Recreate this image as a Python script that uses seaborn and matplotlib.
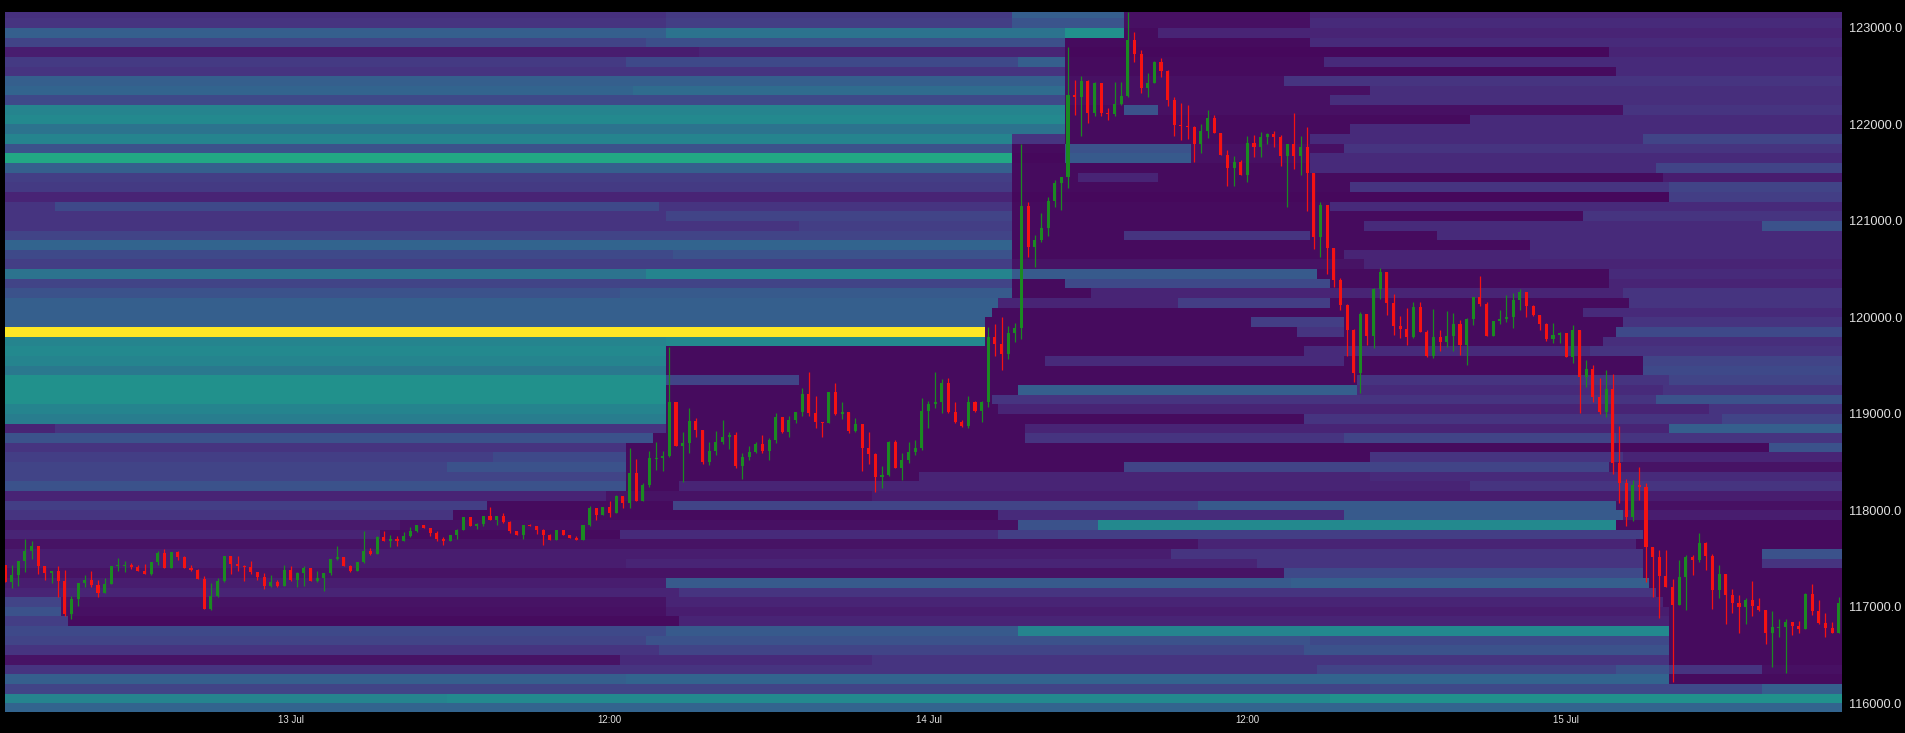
import numpy as np
import pandas as pd
import seaborn as sns
import matplotlib.pyplot as plt

sns.set_theme(style='dark')
plt.rcParams['font.family'] = ['Liberation Sans', 'DejaVu Sans']

# 15 min candles, 12 Jul 13:15 -> 15 Jul 10:15 (open of each bar = previous close)
start = '2025-07-12 13:15'
first_open = 117438
close = [117259, 117328, 117472, 117583, 117628, 117421, 117352, 117369, 117266, 116928,
         117076, 117248, 117273, 117231, 117145, 117238, 117421, 117431, 117438, 117410,
         117376, 117342, 117466, 117559, 117404, 117569, 117514, 117404, 117386, 117293,
         116973, 117111, 117266, 117524, 117445, 117421, 117410, 117362, 117307, 117214,
         117255, 117214, 117386, 117273, 117352, 117404, 117266, 117300, 117352, 117500,
         117514, 117421, 117369, 117466, 117576, 117548, 117721, 117686, 117707, 117679,
         117731, 117790, 117845, 117817, 117765, 117707, 117686, 117741, 117800, 117927,
         117834, 117859, 117938, 117903, 117938,
         117879, 117783, 117748, 117852, 117834, 117800, 117741, 117696, 117800, 117748,
         117714, 117696, 117852, 118024, 117948, 118031, 117972, 118145, 118076, 118386,
         118100, 118258, 118541, 118541, 118568, 119120, 118672, 118700, 118927, 118834,
         118506, 118617, 118713, 118755, 118782, 118455, 118558, 118603, 118686, 118617,
         118731, 118972, 118817, 118937, 119017, 119203, 119006, 118913, 118903, 119223,
         118996, 119024, 118824, 118893, 118644, 118582, 118341, 118369, 118713, 118444,
         118524, 118603, 118644, 119030, 119099, 119127, 119317, 119017, 118920, 118879,
         119127, 119030, 119127,
         119800, 119724, 119620, 119834, 119886, 121153, 120732, 120802, 120922, 121210,
         121388, 121457, 122304, 122280, 122452, 122114, 122425, 122121, 122107, 122210,
         122293, 122874, 122728, 122373, 122431, 122649, 122556, 122252, 121993, 121983,
         121976, 121796, 121934, 122062, 121913, 121682, 121544, 121613, 121475, 121803,
         121768, 121865, 121900, 121865, 121672, 121796, 121672, 121768, 121492, 120836,
         121164, 120715, 120387, 120128, 119869, 119420, 120035, 119807, 120290, 120473,
         120145, 119910, 119876, 119793, 120104, 119852, 119600, 119793, 119748, 119807,
         119931, 119714, 119979, 120207, 120138, 119807, 119966, 119979, 120007, 120180,
         120266, 120118, 120024, 119931, 119772, 119817, 119834, 119593, 119869, 119379,
         119462, 119178, 119023, 119254, 118487, 118280, 117934, 118263, 118245, 117623,
         117513, 117319, 117202, 117019, 117306, 117513, 117485, 117665, 117527, 117174,
         117340, 117123, 117036, 117002, 117071, 117009, 116967, 116732, 116788, 116795,
         116846, 116802, 116767, 117133, 116960, 116836, 116777, 116732, 117036]
high = [117438, 117438, 117472, 117707, 117679, 117628, 117421, 117369, 117421, 117386,
        117111, 117248, 117328, 117369, 117283, 117300, 117421, 117507, 117472, 117455,
        117431, 117445, 117466, 117583, 117603, 117569, 117583, 117524, 117438, 117397,
        117317, 117248, 117300, 117524, 117524, 117524, 117431, 117479, 117362, 117352,
        117328, 117273, 117431, 117421, 117362, 117421, 117404, 117369, 117352, 117500,
        117628, 117507, 117431, 117466, 117783, 117610, 117731, 117783, 117748, 117731,
        117776, 117824, 117845, 117845, 117817, 117783, 117721, 117741, 117810, 117927,
        117927, 117869, 117938, 118031, 117938,
        117972, 117893, 117790, 117852, 117858, 117834, 117810, 117755, 117800, 117800,
        117748, 117738, 117852, 118041, 118017, 118031, 118093, 118155, 118145, 118644,
        118534, 118282, 118617, 118713, 118610, 119690, 119127, 118817, 119065, 118955,
        118834, 118706, 118824, 118937, 118817, 118810, 118593, 118662, 118713, 118782,
        118748, 119006, 118972, 118982, 119024, 119272, 119437, 119189, 118920, 119223,
        119317, 119127, 119024, 118955, 118893, 118810, 118593, 118455, 118720, 118731,
        118593, 118713, 118731, 119161, 119134, 119437, 119361, 119368, 119120, 118937,
        119189, 119134, 119134,
        119904, 119931, 120007, 119910, 119938, 121796, 121198, 120853, 121078, 121250,
        121423, 121457, 122805, 122459, 122500, 122459, 122442, 122418, 122165, 122442,
        122442, 123164, 122960, 122770, 122528, 122660, 122684, 122563, 122280, 122224,
        122200, 121983, 122003, 122148, 122096, 121913, 121734, 121672, 121630, 121879,
        121889, 121924, 121913, 121934, 121889, 121796, 122114, 121879, 121976, 121492,
        121198, 121164, 120715, 120404, 120138, 119876, 120059, 120035, 120301, 120508,
        120473, 120242, 120014, 120093, 120163, 120163, 119869, 120083, 119869, 120069,
        120042, 119972, 119990, 120214, 120428, 120163, 119966, 120076, 120232, 120256,
        120290, 120266, 120128, 120024, 119938, 119945, 119852, 119834, 119921, 119869,
        119558, 119506, 119368, 119455, 119413, 118874, 118330, 118315, 118453, 118280,
        117623, 117589, 117589, 117285, 117485, 117537, 117537, 117768, 117675, 117547,
        117433, 117340, 117181, 117123, 117088, 117271, 117088, 116967, 116960, 116870,
        116870, 116846, 116857, 117140, 117237, 117071, 116933, 116846, 117105]
low = [117259, 117190, 117214, 117362, 117500, 117342, 117273, 117248, 117100, 116904,
       116870, 117007, 117204, 117204, 117100, 117145, 117238, 117369, 117362, 117397,
       117376, 117342, 117335, 117438, 117404, 117404, 117490, 117404, 117369, 117293,
       116973, 116962, 117100, 117259, 117342, 117376, 117266, 117342, 117283, 117180,
       117204, 117204, 117214, 117266, 117204, 117214, 117266, 117259, 117169, 117335,
       117490, 117421, 117362, 117376, 117455, 117541, 117548, 117686, 117617, 117628,
       117679, 117721, 117776, 117817, 117731, 117679, 117638, 117697, 117707, 117800,
       117834, 117810, 117834, 117903, 117852,
       117869, 117765, 117748, 117707, 117834, 117755, 117645, 117696, 117696, 117748,
       117714, 117696, 117707, 117834, 117903, 117948, 117927, 117972, 118024, 118024,
       118100, 118100, 118238, 118420, 118403, 118558, 118662, 118293, 118593, 118765,
       118479, 118472, 118575, 118686, 118637, 118444, 118327, 118524, 118593, 118593,
       118524, 118696, 118799, 118755, 118903, 118982, 118982, 118851, 118765, 118903,
       118989, 118948, 118799, 118817, 118403, 118479, 118189, 118231, 118351, 118438,
       118317, 118489, 118575, 118627, 118858, 119058, 119006, 119006, 118903, 118868,
       118851, 119024, 118920,
       119070, 119600, 119455, 119565, 119748, 119772, 120629, 120525, 120784, 120840,
       121146, 121112, 121337, 122096, 121879, 122010, 122086, 122086, 122045, 122086,
       122200, 122286, 122649, 122321, 122280, 122425, 122487, 122190, 121879, 121837,
       121844, 121613, 121706, 121855, 121913, 121682, 121361, 121361, 121475, 121406,
       121665, 121665, 121796, 121768, 121568, 121147, 121534, 121475, 121105, 120705,
       120622, 120449, 120311, 120076, 119600, 119334, 119213, 119714, 119679, 120187,
       120024, 119817, 119783, 119714, 119783, 119852, 119593, 119576, 119655, 119696,
       119655, 119610, 119506, 119921, 120118, 119807, 119807, 119931, 119955, 119886,
       120076, 120007, 120014, 119869, 119758, 119738, 119738, 119593, 119531, 119006,
       119282, 119126, 118999, 118971, 118377, 118080, 117838, 117893, 118107, 117261,
       117105, 116881, 117202, 116225, 117019, 116967, 117330, 117468, 117382, 116974,
       117088, 116822, 116940, 116732, 116822, 116905, 116960, 116615, 116380, 116684,
       116311, 116708, 116732, 116767, 116915, 116822, 116691, 116732, 116732]

# liquidity heatmap: 100 USD price bins, row 0 = 123100-123200 ... row 72 = 115900-116000
# each row is piecewise constant: level a, then from column t_b level b, etc. (277 = no change)
price_top = 123200
bin_size = 100
N = 277
lvl_a = [0.14, 0.15, 0.30, 0.20, 0.08, 0.17, 0.15, 0.30, 0.32, 0.22,
         0.45, 0.47, 0.38, 0.45, 0.25, 0.60, 0.30, 0.18, 0.17, 0.10,
         0.15, 0.15, 0.15, 0.20, 0.32, 0.22, 0.18, 0.38, 0.20, 0.25,
         0.30, 0.30, 0.30, 1.00, 0.45, 0.47, 0.45, 0.40, 0.50, 0.50,
         0.50, 0.45, 0.42, 0.10, 0.25, 0.15, 0.18, 0.20, 0.20, 0.25,
         0.10, 0.18, 0.15, 0.07, 0.10, 0.05, 0.08, 0.08, 0.05, 0.08,
         0.10, 0.20, 0.25, 0.18, 0.22, 0.20, 0.15, 0.05, 0.15, 0.30,
         0.20, 0.45, 0.32]
t_b = [100, 100, 100, 97, 105, 94, 160, 160, 95, 160,
       160, 160, 160, 152, 152, 152, 152, 152, 152, 152,
       8, 100, 120, 152, 152, 101, 152, 97, 152, 93,
       150, 149, 148, 148, 100, 100, 100, 100, 100, 100,
       100, 100, 100, 8, 98, 94, 74, 67, 94, 94,
       91, 73, 68, 60, 57, 180, 176, 94, 193, 100,
       102, 9, 9, 10, 100, 97, 99, 93, 198, 94,
       206, 67, N]
lvl_b = [0.17, 0.18, 0.38, 0.24, 0.10, 0.22, 0.03, 0.04, 0.35, 0.04,
         0.03, 0.03, 0.03, 0.15, 0.03, 0.02, 0.03, 0.03, 0.03, 0.02,
         0.22, 0.20, 0.18, 0.03, 0.03, 0.25, 0.05, 0.45, 0.03, 0.28,
         0.10, 0.03, 0.03, 0.03, 0.47, 0.03, 0.03, 0.03, 0.20, 0.03,
         0.03, 0.03, 0.03, 0.15, 0.03, 0.03, 0.22, 0.25, 0.03, 0.03,
         0.05, 0.03, 0.03, 0.04, 0.03, 0.10, 0.15, 0.10, 0.22, 0.28,
         0.15, 0.05, 0.04, 0.03, 0.28, 0.25, 0.20, 0.12, 0.20, 0.32,
         0.22, 0.47, 0.0]
t_c = [152, 152, 160, 160, 160, 153, 243, 193, 160, 200,
       169, 221, 203, 160, 160, 160, 197, 162, 203, 251,
       99, 152, 152, 169, 230, 152, 205, 152, 160, 152,
       177, 238, 188, 195, 148, 196, 157, 247, 120, 153,
       149, 150, 196, 100, 154, 266, 94, 94, 138, 102,
       131, 101, 150, 153, 93, 246, 247, 189, 247, 194,
       249, 100, 100, 102, 153, 197, 196, 131, 243, 251,
       265, 200, N]
lvl_c = [0.30, 0.26, 0.50, 0.03, 0.02, 0.30, 0.12, 0.15, 0.04, 0.13,
         0.25, 0.12, 0.12, 0.03, 0.25, 0.28, 0.12, 0.10, 0.15, 0.18,
         0.15, 0.03, 0.03, 0.15, 0.12, 0.03, 0.10, 0.28, 0.22, 0.03,
         0.18, 0.12, 0.18, 0.15, 0.03, 0.12, 0.12, 0.22, 0.03, 0.30,
         0.15, 0.10, 0.15, 0.03, 0.15, 0.25, 0.03, 0.03, 0.10, 0.10,
         0.08, 0.20, 0.12, 0.25, 0.12, 0.03, 0.03, 0.15, 0.03, 0.30,
         0.03, 0.10, 0.08, 0.10, 0.45, 0.22, 0.25, 0.15, 0.25, 0.03,
         0.30, 0.50, 0.0]
t_d = [169, 169, 169, 197, 242, 160, N, N, 206, N,
       174, N, N, 197, 179, 179, 249, 174, 251, N,
       152, 238, 205, 197, N, 202, N, 198, 200, 164,
       200, N, 202, 202, 241, 239, 202, N, 204, 204,
       249, 257, 259, 154, 202, N, 206, 169, 206, 221,
       N, 180, 202, 165, 150, N, 265, 247, N, 248,
       N, 250, 251, 251, 197, 251, 251, 251, 251, N,
       N, N, N]
lvl_d = [0.04, 0.04, 0.03, 0.12, 0.10, 0.03, 0.0, 0.0, 0.13, 0.0,
         0.04, 0.0, 0.0, 0.12, 0.04, 0.04, 0.20, 0.03, 0.20, 0.0,
         0.03, 0.15, 0.12, 0.03, 0.0, 0.10, 0.0, 0.03, 0.03, 0.10,
         0.03, 0.0, 0.03, 0.03, 0.13, 0.15, 0.03, 0.0, 0.15, 0.12,
         0.25, 0.15, 0.20, 0.10, 0.20, 0.0, 0.15, 0.20, 0.12, 0.15,
         0.0, 0.28, 0.28, 0.47, 0.18, 0.0, 0.25, 0.03, 0.0, 0.03,
         0.0, 0.03, 0.03, 0.03, 0.47, 0.03, 0.03, 0.03, 0.15, 0.0,
         0.0, 0.0, 0.0]
t_e = [197, 197, 174, N, N, 199, N, N, N, N,
       244, N, N, 247, 202, 197, N, 250, N, N,
       200, N, 265, 216, N, 230, N, 242, 242, 244,
       245, N, 244, 243, N, N, 247, N, 251, 250,
       N, N, N, 251, 243, N, 244, 242, N, N,
       N, 243, 244, 243, 247, N, N, 265, N, N,
       N, N, N, N, 251, N, N, N, 265, N,
       N, N, N]
lvl_e = [0.10, 0.12, 0.10, 0.0, 0.0, 0.12, 0.0, 0.0, 0.0, 0.0,
         0.15, 0.0, 0.0, 0.20, 0.15, 0.12, 0.0, 0.08, 0.0, 0.0,
         0.12, 0.0, 0.25, 0.12, 0.0, 0.12, 0.0, 0.12, 0.10, 0.15,
         0.15, 0.0, 0.15, 0.22, 0.0, 0.0, 0.20, 0.0, 0.20, 0.15,
         0.0, 0.0, 0.0, 0.30, 0.15, 0.0, 0.10, 0.05, 0.0, 0.0,
         0.0, 0.04, 0.08, 0.03, 0.03, 0.0, 0.0, 0.15, 0.0, 0.0,
         0.0, 0.0, 0.0, 0.0, 0.03, 0.0, 0.0, 0.0, 0.04, 0.0,
         0.0, 0.0, 0.0]

y_labels = [116000, 117000, 118000, 119000, 120000, 121000, 122000, 123000]

n_rows = len(lvl_a)
n_cols = len(close)
times = pd.date_range(start, periods=n_cols, freq='15min')
bins = [price_top - bin_size * (r + 1) for r in range(n_rows)]

z = np.zeros((n_rows, n_cols))
for r in range(n_rows):
    z[r, :] = lvl_a[r]
    for t, v in ((t_b[r], lvl_b[r]), (t_c[r], lvl_c[r]), (t_d[r], lvl_d[r]), (t_e[r], lvl_e[r])):
        z[r, t:] = v
heat = pd.DataFrame(z, index=bins, columns=times)


def to_y(p):
    return (price_top - np.asarray(p, dtype=float)) / bin_size


fig = plt.figure(figsize=(19.06, 7.33), dpi=100, facecolor='black')
ax = fig.add_axes([5 / 1906, 1 - 712 / 733, 1837 / 1906, 700.3 / 733])
ax.set_facecolor('black')
sns.heatmap(heat, cmap='viridis', vmin=0, vmax=1, cbar=False, ax=ax,
            xticklabels=False, yticklabels=False)

# candles
o = np.r_[first_open, close[:-1]].astype(float)
c = np.asarray(close, dtype=float)
hi = np.maximum(np.asarray(high, dtype=float), np.maximum(o, c))
lo = np.minimum(np.asarray(low, dtype=float), np.minimum(o, c))
x = np.arange(n_cols) + 0.5
up = c >= o
colors = np.where(up, '#1b8a22', '#f51212')
ax.vlines(x, to_y(hi), to_y(lo), colors=colors, linewidth=0.9, zorder=3)
body_top = to_y(np.maximum(o, c))
body_h = np.maximum(to_y(np.minimum(o, c)) - body_top, 0.1)
ax.bar(x, body_h, bottom=body_top, width=0.46, color=colors, linewidth=0, zorder=4)

ax.set_xlim(0.5, n_cols)
ax.set_ylim(to_y(115910), to_y(123168))

ax.yaxis.tick_right()
ax.set_yticks(to_y(y_labels))
ax.set_yticklabels([f'{p:.1f}' for p in y_labels])
ax.tick_params(axis='y', length=0, pad=5, labelsize=9.2, colors='#e0e0e0')

sel = [i for i, t in enumerate(times) if t.minute == 0 and t.hour in (0, 12)]
ax.set_xticks(np.array(sel) + 0.5)
ax.set_xticklabels([f'{times[i].day} {times[i]:%b}' if times[i].hour == 0 else '12:00' for i in sel],
                   rotation=0)
ax.tick_params(axis='x', length=0, pad=2, labelsize=7, colors='#e0e0e0')
ax.set_xlabel('')
ax.set_ylabel('')
for s in ax.spines.values():
    s.set_visible(False)

fig.savefig('out.png', dpi=100, facecolor='black')
